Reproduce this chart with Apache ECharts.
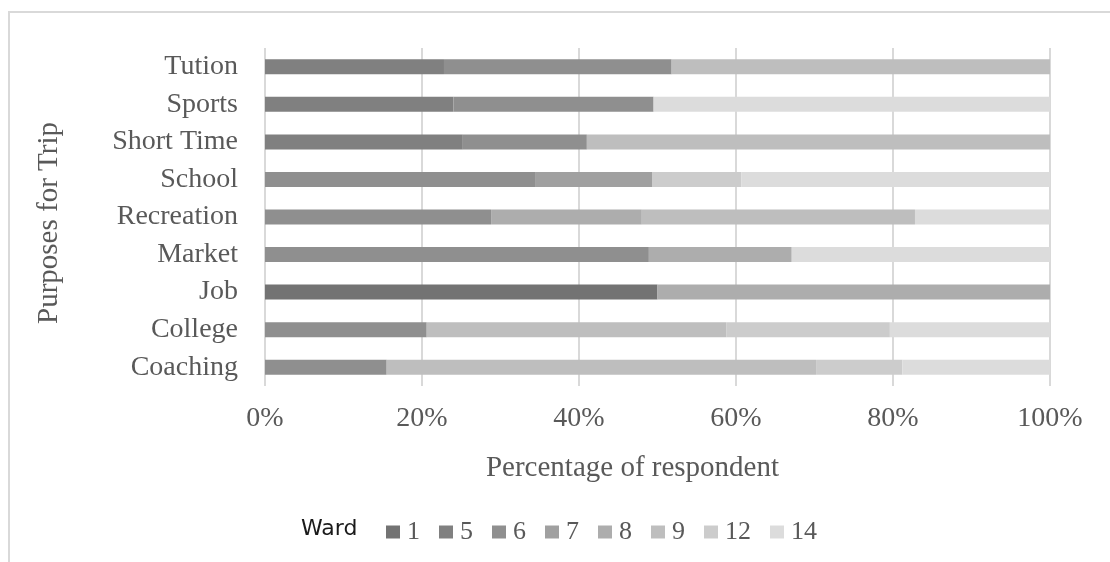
<!DOCTYPE html>
<html>
<head>
<meta charset="utf-8">
<script src="https://cdn.jsdelivr.net/npm/echarts@6/dist/echarts.min.js"></script>
<style>
html,body{margin:0;padding:0;background:#fff;}
#chart{width:1110px;height:562px;}
</style>
</head>
<body>
<div id="chart"></div>
<script>
const categories = ['Tution','Sports','Short Time','School','Recreation','Market','Job','College','Coaching'];
const wardNames = ['1','5','6','7','8','9','12','14'];
const ward1  = [0, 0, 0, 0, 0, 0, 50, 0, 0];
const ward5  = [22.8, 24.0, 25.2, 0, 0, 0, 0, 0, 0];
const ward6  = [29.0, 25.5, 15.8, 34.4, 28.8, 48.9, 0, 20.6, 15.5];
const ward7  = [0, 0, 0, 14.9, 0, 0, 0, 0, 0];
const ward8  = [0, 0, 0, 0, 19.2, 18.2, 50, 0, 0];
const ward9  = [48.2, 0, 59.0, 0, 34.8, 0, 0, 38.2, 54.7];
const ward12 = [0, 0, 0, 11.4, 0, 0, 0, 20.8, 11.0];
const ward14 = [0, 50.5, 0, 39.3, 17.2, 32.9, 0, 20.4, 18.8];
const wardValues = [ward1, ward5, ward6, ward7, ward8, ward9, ward12, ward14];
const wardColors = ['#737373','#808080','#8f8f8f','#a0a0a0','#adadad','#bebebe','#cccccc','#dcdcdc'];
const xTicks = [0, 20, 40, 60, 80, 100];

const serif = 'Liberation Serif';
const txt = '#595959';

const chart = echarts.init(document.getElementById('chart'));
chart.setOption({
  animation: false,
  backgroundColor: '#fff',
  graphic: [{
    type: 'rect',
    shape: { x: 9, y: 12, width: 1300, height: 800 },
    style: { fill: 'none', stroke: '#d9d9d9', lineWidth: 2 },
    silent: true
  }],
  title: {
    text: 'Ward',
    left: 296,
    top: 513,
    textStyle: { fontFamily: 'DejaVu Sans', fontWeight: 'normal', fontSize: 22, color: '#1a1a1a' }
  },
  legend: {
    data: wardNames,
    left: 381,
    top: 514,
    itemWidth: 14,
    itemHeight: 13,
    itemGap: 19,
    icon: 'rect',
    textStyle: { fontFamily: serif, fontSize: 26, color: txt, padding: [0, 0, 0, 2] }
  },
  grid: { left: 265, right: 60, top: 48, bottom: 176, containLabel: false },
  xAxis: {
    type: 'value',
    min: 0,
    max: 100,
    interval: 20,
    axisLine: { show: false },
    axisTick: { show: false },
    splitLine: { show: true, lineStyle: { color: '#d9d9d9', width: 2 } },
    axisLabel: {
      formatter: v => v + '%',
      customValues: xTicks,
      fontFamily: serif, fontSize: 28, color: txt, margin: 19
    },
    name: 'Percentage of respondent',
    nameLocation: 'middle',
    nameGap: 68,
    nameTextStyle: { fontFamily: serif, fontSize: 29, color: txt, padding: [0, 50, 0, 0] }
  },
  yAxis: {
    type: 'category',
    data: categories,
    inverse: true,
    axisLine: { show: false },
    axisTick: { show: false },
    axisLabel: { fontFamily: serif, fontSize: 28, color: txt, margin: 27 },
    name: 'Purposes for Trip',
    nameLocation: 'middle',
    nameRotate: 90,
    nameGap: 201,
    nameTextStyle: { fontFamily: serif, fontSize: 29, color: txt, padding: [0, 12, 0, 0] }
  },
  series: wardNames.map((n, i) => ({
    name: n,
    type: 'bar',
    stack: 'total',
    data: wardValues[i],
    barCategoryGap: '60%',
    itemStyle: { color: wardColors[i] },
    emphasis: { disabled: true }
  }))
});
</script>
</body>
</html>
